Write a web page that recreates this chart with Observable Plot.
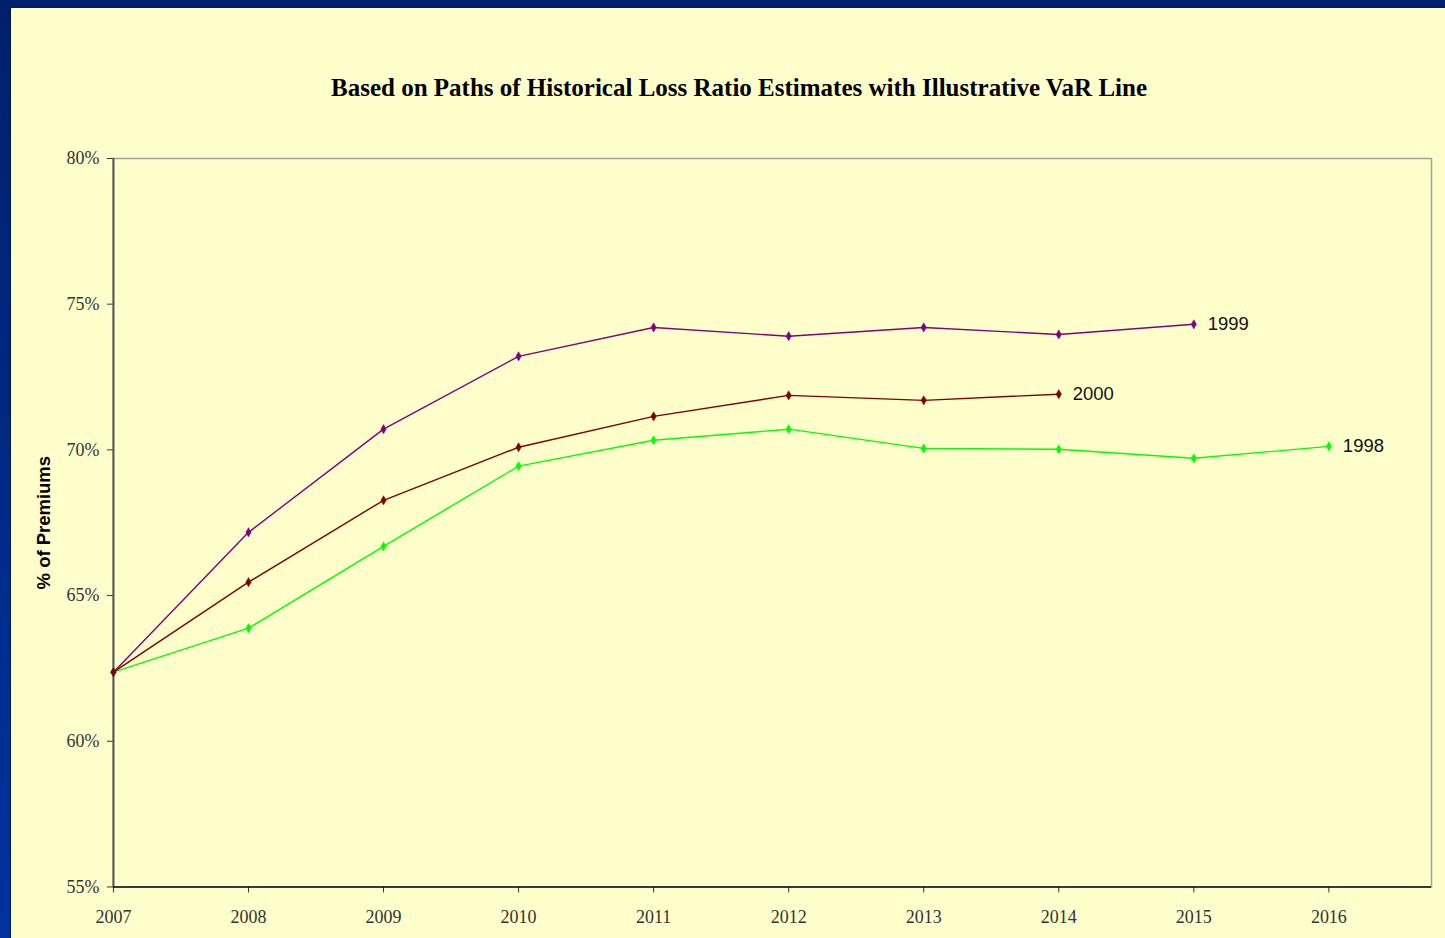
<!DOCTYPE html>
<html>
<head>
<meta charset="utf-8">
<script src="https://cdn.jsdelivr.net/npm/d3@7"></script>
<script src="https://cdn.jsdelivr.net/npm/@observablehq/plot@0.6"></script>
<style>
  html, body { margin: 0; padding: 0; }
  body { width: 1445px; height: 938px; overflow: hidden; background: linear-gradient(to bottom, #00206c, #0033a0); position: relative; }
  #panel { position: absolute; left: 10px; top: 7px; width: 1435px; height: 931px; background: #ffffcc; border-left: 1px solid #001a4a; border-top: 1px solid #001a4a; box-sizing: border-box; }
  #title { position: absolute; top: 66px; left: 728px; transform: translateX(-50%); white-space: nowrap; font-family: "Liberation Serif", serif; font-weight: bold; font-size: 25px; line-height: 28px; color: #000; }
  #chart { position: absolute; left: 0; top: 113px; }
</style>
</head>
<body>
<div id="panel">
  <div id="title">Based on Paths of Historical Loss Ratio Estimates with Illustrative VaR Line</div>
  <div id="chart"></div>
</div>
<script>
const years = [2007, 2008, 2009, 2010, 2011, 2012, 2013, 2014, 2015, 2016];
const yTicks = [55, 60, 65, 70, 75, 80];
const seriesNames = ["1999", "1998", "2000"];
const seriesColors = ["#800080", "#00ff00", "#800000"];
const path1999 = [62.37, 67.17, 70.71, 73.21, 74.20, 73.90, 74.20, 73.96, 74.31];
const path1998 = [62.37, 63.88, 66.69, 69.44, 70.33, 70.71, 70.05, 70.02, 69.71, 70.12];
const path2000 = [62.37, 65.46, 68.27, 70.09, 71.15, 71.87, 71.70, 71.91];
const seriesValues = [path1999, path1998, path2000];

const rows = [];
seriesNames.forEach((name, i) => {
  seriesValues[i].forEach((v, j) => rows.push({series: name, year: years[j], value: v, color: seriesColors[i]}));
});
const lastRows = seriesNames.map((name, i) => {
  const vals = seriesValues[i];
  return {series: name, year: years[vals.length - 1], value: vals[vals.length - 1]};
});

const marks = [
  Plot.frame({stroke: "#a0a0a0", strokeWidth: 1.5}),
  Plot.axisY({ticks: yTicks, tickFormat: d => d + "%", tickSize: 6, tickPadding: 8, fontSize: 18, fill: "#333", stroke: "#333", label: null}),
  Plot.axisX({ticks: years, tickFormat: d => String(d), tickSize: 6, tickPadding: 17, fontSize: 18, fill: "#333", stroke: "#333", label: null}),
  Plot.ruleX([2007], {stroke: "#555", strokeWidth: 2}),
  Plot.ruleY([55], {stroke: "#111", strokeWidth: 1.5})
];
seriesNames.forEach((name, i) => {
  const data = rows.filter(r => r.series === name);
  marks.push(Plot.line(data, {x: "year", y: "value", stroke: seriesColors[i], strokeWidth: 1.4}));
  marks.push(Plot.dot(data, {x: "year", y: "value", symbol: "diamond", r: 2.8, fill: seriesColors[i], stroke: seriesColors[i], strokeWidth: 0.5}));
});
marks.push(Plot.text(lastRows, {x: "year", y: "value", text: "series", dx: 14, textAnchor: "start", fontSize: 18.5, fontFamily: "Liberation Sans, Arial, sans-serif", fill: "#111"}));
marks.push(Plot.text(["% of Premiums"], {frameAnchor: "left", textAnchor: "middle", text: d => d, rotate: -90, dx: -69, fontSize: 18.5, fontWeight: "bold", fontFamily: "Liberation Sans, Arial, sans-serif", fill: "#000"}));

const chart = Plot.plot({
  width: 1435,
  height: 818,
  marginTop: 37,
  marginLeft: 102,
  marginRight: 14,
  marginBottom: 52,
  style: {background: "transparent", fontFamily: "Liberation Serif, serif", fontSize: "18px", color: "#333"},
  x: {type: "linear", domain: [2007, 2016.76]},
  y: {domain: [55, 80]},
  marks
});
document.getElementById("chart").appendChild(chart);
</script>
</body>
</html>
